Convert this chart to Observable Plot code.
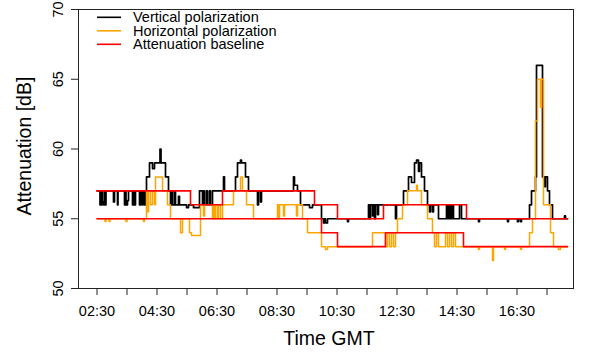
<!DOCTYPE html>
<html>
<head>
<meta charset="utf-8">
<script src="https://cdn.jsdelivr.net/npm/d3@7"></script>
<script src="https://cdn.jsdelivr.net/npm/@observablehq/plot@0.6"></script>
<style>
  html, body { margin: 0; padding: 0; background: #fff; }
  #chart { width: 598px; height: 354px; }
</style>
</head>
<body>
<div id="chart"></div>
<script>
// ---------- data (time GMT, attenuation dB) ----------
const vTimes = ["02:30","02:36","02:37","02:38","02:40","02:41","02:43","02:45","02:47","02:48","03:03","03:05","03:11","03:12","03:25","03:27","03:28","03:31","03:33","03:41","03:43","03:44","03:47","03:55","03:57","04:00","04:02","04:05","04:07","04:09","04:15","04:21","04:25","04:36","04:38","04:47","04:53","04:57","04:59","05:01","05:05","05:07","05:13","05:15","05:29","05:33","05:43","05:55","06:01","06:03","06:05","06:09","06:11","06:15","06:17","06:21","06:43","06:45","07:07","07:11","07:17","07:19","07:27","07:33","07:51","07:53","07:57","07:59","09:03","09:05","09:11","09:17","09:35","09:41","09:59","10:03","10:05","10:07","10:11","10:51","10:53","11:33","11:35","11:37","11:41","11:43","11:45","11:47","11:51","11:53","12:27","12:29","12:43","12:53","12:59","13:05","13:09","13:13","13:15","13:19","13:25","13:31","13:35","13:37","13:41","13:43","13:53","14:09","14:11","14:13","14:15","14:17","14:19","14:21","14:23","14:35","14:39","15:13","15:15","16:11","16:13","16:31","16:33","16:37","16:39","16:55","16:59","17:07","17:09","17:21","17:25","17:27","17:31","17:35","17:41","18:05","18:07","18:11"];
const vValues = [57,56,57,56,57,56.2,56,57,56,57,56.2,57,56,57,56,57,56,56.3,57,56,57,56,57,56,57,56,57,56,57,58,59,58.6,59,60,59,58,57,56,57,56,57,56,56.6,56,55.8,56,55.8,57,56,57,56,57,56,57,56,57,58,57,58,59,59.2,59,58,57,56,57,56.2,57,58,57.4,57,56,55.8,56,55,54.7,55,54.7,55,54.8,55,56,55,56,55.2,56,55,56,55.3,56,55,56,57,58,57.6,59,59.2,58.4,59,58,57,56,55.5,56,55.5,56,55,56,55,56,55,56,55,56,55,56,55,54.8,55,54.8,55,54.8,55,54.8,55,56,57,58,66,58,57.3,58,57,56,55,55.2,55,55];

const hTimes = ["02:30","02:46","02:48","02:54","02:56","03:28","03:30","04:03","04:05","04:09","04:11","04:13","04:17","04:21","04:25","04:27","04:41","04:51","04:57","05:17","05:21","05:35","05:39","05:57","06:03","06:05","06:21","06:23","06:25","06:27","06:31","06:33","06:37","06:41","07:03","07:17","07:21","07:29","07:43","08:31","08:33","08:35","08:43","08:45","09:09","09:11","09:21","09:31","09:59","10:07","10:11","11:41","12:07","12:11","12:15","12:19","12:23","12:27","12:31","12:41","12:51","13:09","13:11","13:19","13:31","13:41","13:45","13:49","13:53","14:07","14:11","14:15","14:19","14:23","14:27","15:13","15:15","15:41","15:43","16:05","16:07","16:37","16:39","16:55","17:01","17:07","17:11","17:17","17:19","17:23","17:37","17:43","17:53","17:57","18:11"];
const hValues = [55,54.8,55,54.8,55,54.8,55,54.8,55,57,55.5,57,56,57,56,58,57,56,55,54,55,54,53.8,56,55.2,56,55,56,55,56,55,56,55,56,57,58,57,56,55,56,55,56,55.2,56,55.2,56,55,54,53,52.8,53,54,53,54,53,54,53,54,55,56,57,57.4,57,56,55,54,53,54,53,54,53,54,53,54,53,52.8,53,52,53,52.8,53,52.8,53,54,55,62,65,63,65,56,54,53,52.8,53,53];

const vBaseTimes  = ["02:30","05:37","06:41","09:45","10:31","12:03","14:49","18:11"];
const vBaseValues = [57,56,57,56,55,56,55,55];
const hBaseTimes  = ["02:30","09:59","10:31","12:07","14:43","18:11"];
const hBaseValues = [55,54,53,54,53,53];

const xDomain = ["01:53","18:23"];
const yDomain = [50, 70];
const yTicks = [50,55,60,65,70];
const xTickTimes  = ["02:30","03:30","04:30","05:30","06:30","07:30","08:30","09:30","10:30","11:30","12:30","13:30","14:30","15:30","16:30","17:30"];
const xTickLabels = ["02:30","","04:30","","06:30","","08:30","","10:30","","12:30","","14:30","","16:30",""];

const seriesNames = ["Vertical polarization","Horizontal polarization","Attenuation baseline"];
const seriesColors = ["#000000","#FFA500","#FF0000"];

// ---------- build ----------
const toH = s => { const [h, m] = s.split(":").map(Number); return h + m / 60; };
const rows = (times, values) => times.map((t, i) => ({t: toH(t), v: values[i]}));
const vData = rows(vTimes, vValues);
const hData = rows(hTimes, hValues);
const vBase = rows(vBaseTimes, vBaseValues);
const hBase = rows(hBaseTimes, hBaseValues);
const xTicks = xTickTimes.map(toH);
const tickLabel = new Map(xTicks.map((t, i) => [t, xTickLabels[i]]));

const font = "'Liberation Sans', Arial, Helvetica, sans-serif";

const chart = Plot.plot({
  width: 598,
  height: 354,
  marginLeft: 78,
  marginRight: 25,
  marginTop: 9,
  marginBottom: 66,
  style: {fontFamily: font, fontSize: "14.5px", color: "#000", background: "#fff"},
  x: {domain: xDomain.map(toH), label: null},
  y: {domain: yDomain, label: null},
  marks: [
    Plot.line(vData, {x: "t", y: "v", curve: "step-after", stroke: seriesColors[0], strokeWidth: 1.7}),
    Plot.line(hData, {x: "t", y: "v", curve: "step-after", stroke: seriesColors[1], strokeWidth: 1.5}),
    Plot.line(vBase, {x: "t", y: "v", curve: "step-after", stroke: seriesColors[2], strokeWidth: 1.6}),
    Plot.line(hBase, {x: "t", y: "v", curve: "step-after", stroke: seriesColors[2], strokeWidth: 1.6}),
    Plot.frame({stroke: "#222"}),
    Plot.axisX({ticks: xTicks, tickSize: 7, tickPadding: 10, tickFormat: d => tickLabel.get(d) ?? "", label: null, stroke: "#222"}),
    Plot.axisY({ticks: yTicks, tickSize: 7, tickFormat: () => "", label: null, stroke: "#222"}),
    Plot.text(yTicks, {y: d => d, text: d => String(d), frameAnchor: "left", dx: -20, rotate: -90, textAnchor: "middle", lineAnchor: "middle", fontSize: 14.5}),
    Plot.text(["Time GMT"], {frameAnchor: "bottom", dx: 3, dy: 50, lineAnchor: "middle", fontSize: 19.5}),
    Plot.text(["Attenuation [dB]"], {frameAnchor: "left", dx: -54, dy: -3, rotate: -90, lineAnchor: "middle", textAnchor: "middle", fontSize: 19.5})
  ]
});

// legend inside the plot box, top-left
const svg = d3.select(chart);
const lg = svg.append("g").attr("font-family", font).attr("font-size", 14.5).attr("text-anchor", "start");
seriesNames.forEach((name, i) => {
  const y = 17.3 + i * 13.5;
  lg.append("line").attr("x1", 97).attr("x2", 121).attr("y1", y).attr("y2", y)
    .attr("stroke", seriesColors[i]).attr("stroke-width", 1.6);
  lg.append("text").attr("x", 133).attr("y", y + 4.8).attr("fill", "#000").text(name);
});

document.getElementById("chart").appendChild(chart);
</script>
</body>
</html>
